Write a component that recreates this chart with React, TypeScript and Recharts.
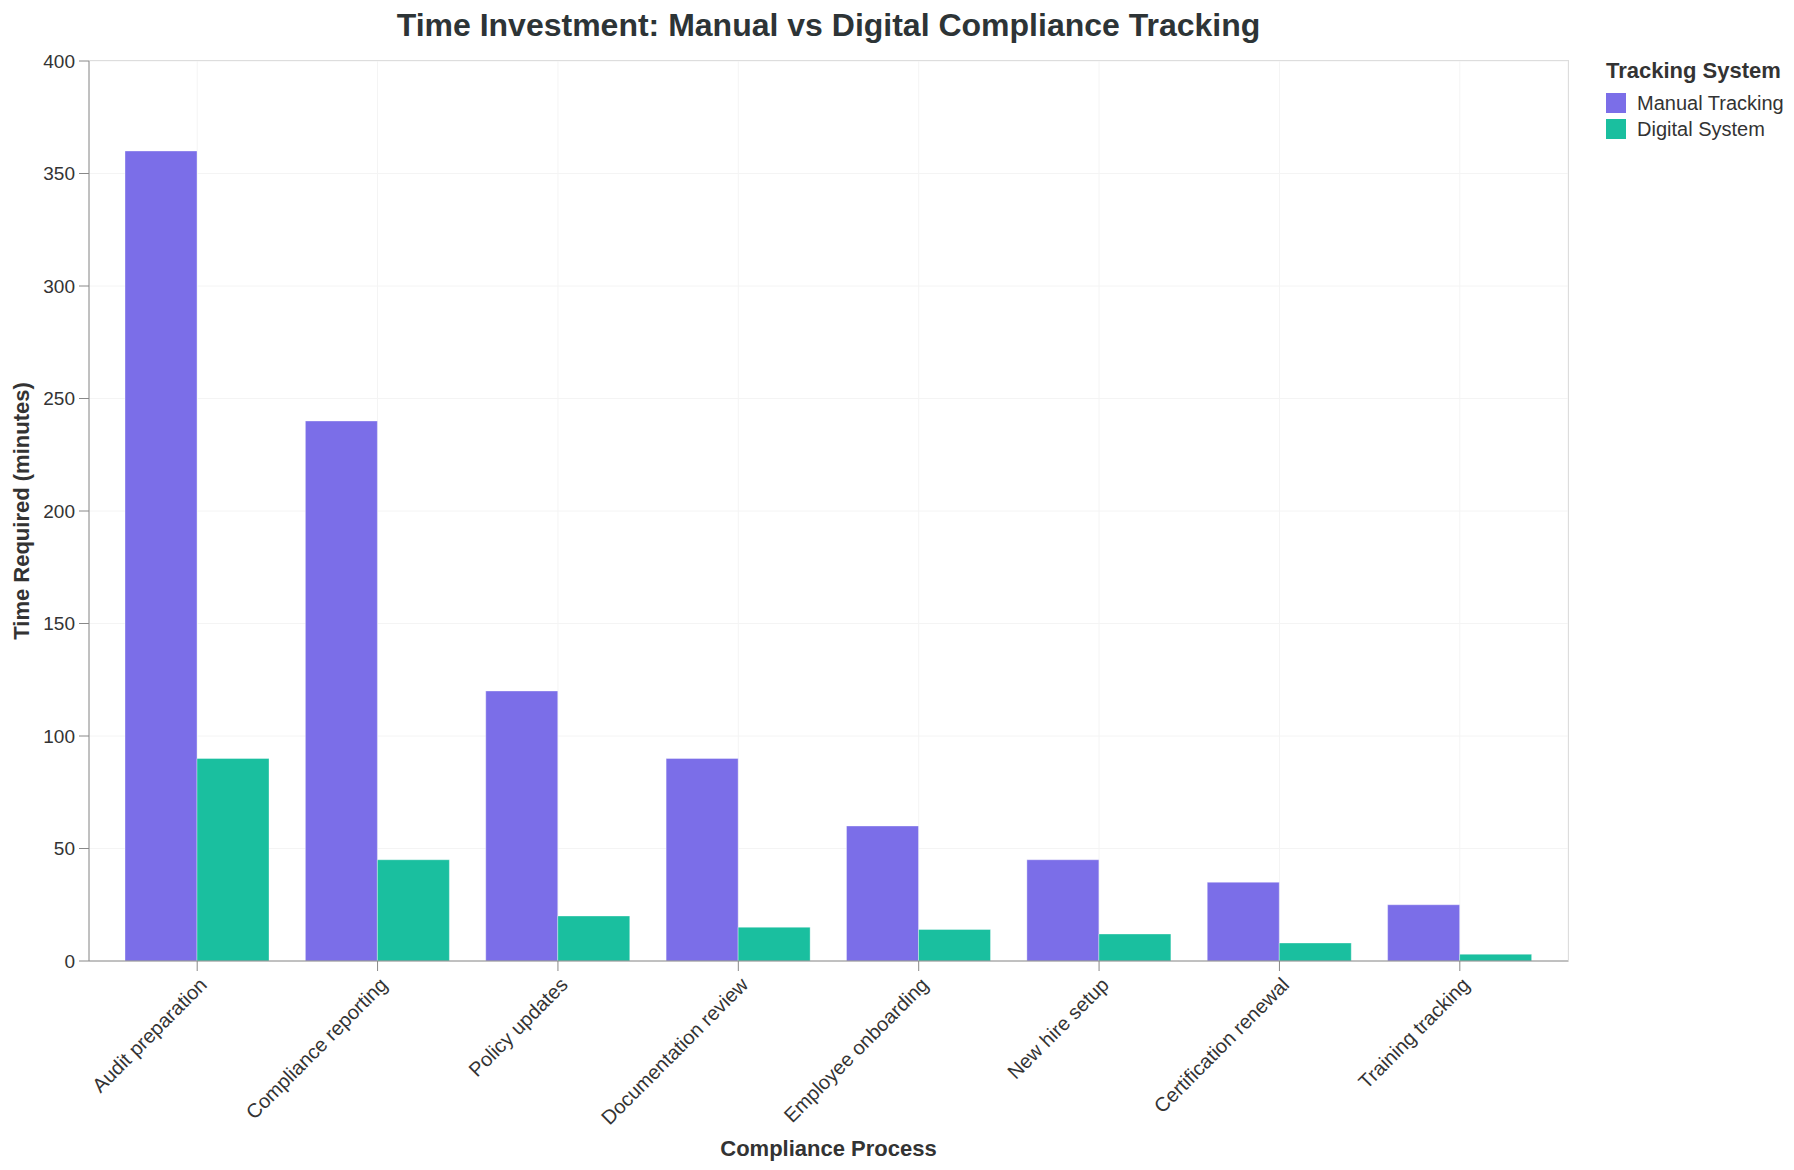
import React from 'react';
import { BarChart, Bar, XAxis, YAxis, CartesianGrid } from 'recharts';

// Minutes spent per compliance process, manual vs digital tracking
const processes = [
  'Audit preparation',
  'Compliance reporting',
  'Policy updates',
  'Documentation review',
  'Employee onboarding',
  'New hire setup',
  'Certification renewal',
  'Training tracking',
];
const manualMinutes = [360, 240, 120, 90, 60, 45, 35, 25];
const digitalMinutes = [90, 45, 20, 15, 14, 12, 8, 3];
const yTicks = [0, 50, 100, 150, 200, 250, 300, 350, 400];

const series = [
  { key: 'manual', name: 'Manual Tracking', color: '#7b6ee8' },
  { key: 'digital', name: 'Digital System', color: '#1abf9f' },
];

const data = processes.map((process, i) => ({
  process,
  manual: manualMinutes[i],
  digital: digitalMinutes[i],
}));

const FONT = '"Liberation Sans", Arial, Helvetica, sans-serif';
const TEXT = '#333333';

// rotated category label, right edge hanging off the tick
function ProcessTick(props: any) {
  const { x, y, payload } = props;
  return (
    <g transform={`translate(${x},${y})`}>
      <text
        x={0}
        y={0}
        dy="0.78em"
        textAnchor="end"
        transform="rotate(-45)"
        fontSize={20}
        fontFamily={FONT}
        fill={TEXT}
      >
        {payload.value}
      </text>
    </g>
  );
}

function YTitle(props: any) {
  const { viewBox } = props;
  const cx = 21;
  const cy = viewBox.y + viewBox.height / 2;
  return (
    <text
      x={cx}
      y={cy}
      transform={`rotate(-90, ${cx}, ${cy})`}
      textAnchor="middle"
      dominantBaseline="central"
      fontSize={22}
      fontWeight="bold"
      fontFamily={FONT}
      fill={TEXT}
    >
      Time Required (minutes)
    </text>
  );
}

function XTitle(props: any) {
  const { viewBox } = props;
  return (
    <text
      x={viewBox.x + viewBox.width / 2}
      y={viewBox.y + 187}
      textAnchor="middle"
      dominantBaseline="central"
      fontSize={22}
      fontWeight="bold"
      fontFamily={FONT}
      fill={TEXT}
    >
      Compliance Process
    </text>
  );
}

export default function App() {
  return (
    <div style={{ position: 'absolute', left: 0, top: 0, width: 1794, height: 1170, background: '#fff', fontFamily: FONT }}>
      <div
        style={{
          position: 'absolute',
          left: 0,
          width: 1657,
          top: 6,
          textAlign: 'center',
          fontSize: 32,
          fontWeight: 'bold',
          color: '#2d3436',
          lineHeight: '38px',
        }}
      >
        Time Investment: Manual vs Digital Compliance Tracking
      </div>

      <BarChart
        width={1794}
        height={1170}
        data={data}
        margin={{ top: 61, right: 226, bottom: 0, left: 0 }}
        barCategoryGap={18}
        barGap={0}
      >
        <CartesianGrid stroke="#f4f4f4" />
        <XAxis
          dataKey="process"
          height={209}
          interval={0}
          padding={{ left: 18, right: 18 }}
          stroke="#888888"
          tickSize={10}
          tickMargin={4}
          tick={<ProcessTick />}
          label={<XTitle />}
        />
        <YAxis
          width={89}
          domain={[0, 400]}
          ticks={yTicks}
          stroke="#888888"
          tickSize={10}
          tickMargin={4}
          tick={{ fontSize: 19, fill: TEXT, fontFamily: FONT }}
          label={<YTitle />}
        />
        {series.map((s) => (
          <Bar
            key={s.key}
            dataKey={s.key}
            name={s.name}
            fill={s.color}
            stroke="#ffffff"
            strokeOpacity={0.35}
            isAnimationActive={false}
          />
        ))}
      </BarChart>

      {/* plot frame: top and right edges */}
      <div style={{ position: 'absolute', left: 89, top: 60, width: 1479, height: 901, borderTop: '1px solid #dddddd', borderRight: '1px solid #dddddd', pointerEvents: 'none' }} />

      <div style={{ position: 'absolute', left: 1606, top: 58, color: TEXT }}>
        <div style={{ fontSize: 22, fontWeight: 'bold', lineHeight: '26px', marginBottom: 6 }}>Tracking System</div>
        {series.map((s) => (
          <div key={s.key} style={{ display: 'flex', alignItems: 'center', height: 26, fontSize: 20 }}>
            <span style={{ display: 'inline-block', width: 20, height: 20, background: s.color, marginRight: 11 }} />
            {s.name}
          </div>
        ))}
      </div>
    </div>
  );
}
